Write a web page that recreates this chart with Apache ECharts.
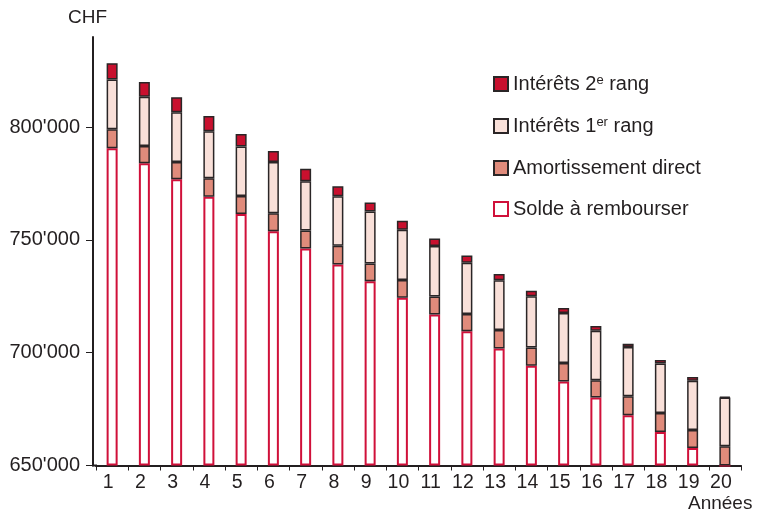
<!DOCTYPE html>
<html>
<head>
<meta charset="utf-8">
<script src="https://cdn.jsdelivr.net/npm/echarts@6/dist/echarts.min.js"></script>
<style>html,body{margin:0;padding:0;background:#fff}#c{width:758px;height:513px}</style>
</head>
<body>
<div id="c"></div>
<script>
var years = ['1','2','3','4','5','6','7','8','9','10','11','12','13','14','15','16','17','18','19','20'];
var yTicks = [650000, 700000, 750000, 800000];
var baseValue = 650000;
var solde = [790700, 784000, 776900, 769200, 761500, 753900, 746200, 739100, 731700, 724400, 716900, 709500, 701900, 694200, 687200, 680100, 672300, 664900, 657800, 650000];
var amortissement = [8400, 7700, 7700, 8200, 8000, 7900, 8000, 8300, 7900, 7900, 8000, 7700, 8200, 8100, 8300, 7700, 8400, 8400, 7900, 8500];
var interets1 = [22100, 21800, 22000, 20800, 22000, 22800, 21800, 22000, 23000, 22200, 22400, 22700, 22000, 22800, 22100, 22000, 21800, 21900, 21900, 21600];
var interets2 = [7200, 6500, 6700, 6800, 5500, 4900, 5600, 4400, 4000, 4000, 3300, 3200, 2800, 2400, 2200, 2100, 1500, 1600, 1600, 400];

var names = ['Intérêts 2e rang', 'Intérêts 1er rang', 'Amortissement direct', 'Solde à rembourser'];
var richNames = {
  'Intérêts 2e rang': '{n|Intérêts 2}{s|e}{n| rang}',
  'Intérêts 1er rang': '{n|Intérêts 1}{s|er}{n| rang}',
  'Amortissement direct': '{n|Amortissement direct}',
  'Solde à rembourser': '{n|Solde à rembourser}'
};
var FONT = '"Liberation Sans", Arial, sans-serif';
var TXT = '#231f20';
function fmt(v){ return String(v).replace(/\B(?=(\d{3})+(?!\d))/g, "'"); }

var chart = echarts.init(document.getElementById('c'), null, {renderer: 'canvas'});
var barW = 11;
chart.setOption({
  animation: false,
  backgroundColor: '#fff',
  grid: {left: 96, right: 17, top: 37, bottom: 47.5, containLabel: false},
  legend: {
    orient: 'vertical', left: 488, top: 69,
    data: names,
    icon: 'rect', itemWidth: 14, itemHeight: 14, itemGap: 21,
    selectedMode: false,
    formatter: function(n){ return richNames[n]; },
    textStyle: {
      color: TXT, fontFamily: FONT, fontSize: 20, lineHeight: 20,
      rich: {
        n: {fontFamily: FONT, fontSize: 20, color: TXT, lineHeight: 20},
        s: {fontFamily: FONT, fontSize: 13, color: TXT, verticalAlign: 'top', lineHeight: 20, padding: [0,0,8,0]}
      }
    }
  },
  xAxis: {
    type: 'category', data: years,
    axisLine: {lineStyle: {color: TXT, width: 2}},
    axisTick: {show: true, length: 5, lineStyle: {color: TXT, width: 1}},
    axisLabel: {color: TXT, fontFamily: FONT, fontSize: 19.5, margin: 7, padding: [0, 8, 0, 0]},
    splitLine: {show: false}
  },
  yAxis: {
    type: 'value', min: 650000, max: 840000, interval: 50000, offset: 3,
    axisLine: {show: true, lineStyle: {color: TXT, width: 2}},
    axisTick: {show: true, length: 7, lineStyle: {color: TXT, width: 1}, customValues: yTicks},
    axisLabel: {color: TXT, fontFamily: FONT, fontSize: 20, margin: 13, formatter: fmt, customValues: yTicks},
    splitLine: {show: false}
  },
  graphic: [
    {type: 'text', left: 68, top: 8, style: {text: 'CHF', fontFamily: FONT, fontSize: 19, fill: TXT}},
    {type: 'text', left: 688, top: 494, style: {text: 'Années', fontFamily: FONT, fontSize: 19, fill: TXT}},
    {type: 'line', shape: {x1: 92, y1: 465.5, x2: 97, y2: 465.5}, style: {stroke: TXT, lineWidth: 2}}
  ],
  series: [
    {name: 'base', type: 'bar', stack: 't', barWidth: barW, silent: true,
     data: years.map(function(){ return baseValue; }),
     itemStyle: {color: 'rgba(0,0,0,0)'}},
    {name: 'Solde à rembourser', type: 'bar', stack: 't', barWidth: barW,
     data: solde.map(function(v){ return v - baseValue; }),
     itemStyle: {color: '#ffffff', borderColor: '#d0103a', borderWidth: 2}},
    {name: 'Amortissement direct', type: 'bar', stack: 't', barWidth: barW,
     data: amortissement,
     itemStyle: {color: '#e08b7b', borderColor: '#2a2526', borderWidth: 1.5}},
    {name: 'Intérêts 1er rang', type: 'bar', stack: 't', barWidth: barW,
     data: interets1,
     itemStyle: {color: '#f9e0d9', borderColor: '#2a2526', borderWidth: 1.5}},
    {name: 'Intérêts 2e rang', type: 'bar', stack: 't', barWidth: barW,
     data: interets2,
     itemStyle: {color: '#c8102e', borderColor: '#2a2526', borderWidth: 1.5}}
  ]
});
</script>
</body>
</html>
